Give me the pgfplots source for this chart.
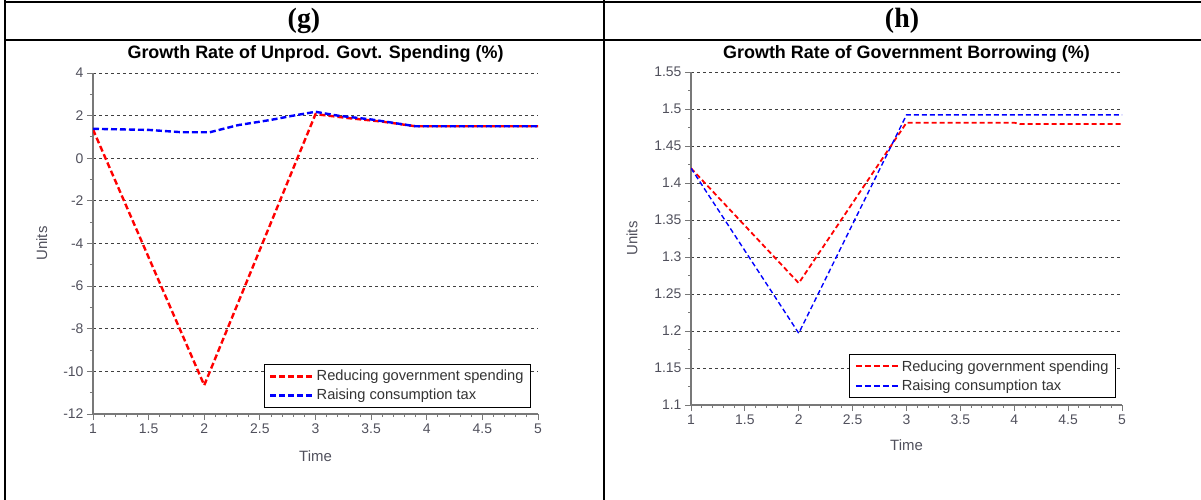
\documentclass[border=0pt]{standalone}
\usepackage{fontspec}
\setmainfont{Liberation Sans}
\newfontfamily\timesfont{Liberation Serif}
\usepackage{pgfplots}
\pgfplotsset{compat=1.18}

\definecolor{tickgray}{RGB}{80,80,92}
\definecolor{axisgray}{RGB}{120,120,120}
\definecolor{lred}{RGB}{255,0,0}
\definecolor{lblue}{RGB}{0,0,255}

\pgfplotsset{
  panel/.style={
    scale only axis,
    axis lines=left,
    axis line style={-, draw=axisgray, line width=1.5bp},
    tick align=outside,
    major tick length=6bp, minor tick length=3bp,
    every tick/.style={axisgray, line width=1bp},
    xmin=1, xmax=5,
    xtick={1,1.5,...,5}, minor x tick num=4,
    ymajorgrids,
    grid style={black!75, dash pattern=on 3bp off 3bp, line width=0.8bp},
    tick label style={font=\fontsize{14}{14}\selectfont, text=tickgray},
    /pgf/number format/assume math mode=true,
    label style={font=\fontsize{15}{15}\selectfont, text=tickgray},
    every axis title shift=0pt,
    legend style={draw=black, line width=0.8bp, fill=white,
      font=\fontsize{14.7}{15}\selectfont, text=black!80,
      anchor=south east, cells={anchor=west},
      inner xsep=5bp, inner ysep=4bp, row sep=3bp},
    legend image code/.code={\draw[#1] (0bp,0bp) -- (43bp,0bp);},
  },
}

\begin{document}
\begin{tikzpicture}
\path[use as bounding box] (0,0) rectangle (1201bp,-500bp);

% table frame
\draw[line width=2.2bp] (5bp,-2bp) -- (1201bp,-2bp);
\draw[line width=2.2bp] (5bp,-40bp) -- (1201bp,-40bp);
\draw[line width=2.2bp] (5bp,0bp) -- (5bp,-500bp);
\draw[line width=2.2bp] (604bp,0bp) -- (604bp,-500bp);
\node[font=\timesfont\bfseries\fontsize{28}{28}\selectfont] at (304bp,-21bp) {(g)};
\node[font=\timesfont\bfseries\fontsize{28}{28}\selectfont] at (902bp,-21bp) {(h)};

% (g)
\begin{axis}[panel,
  at={(93bp,-414bp)}, anchor=south west,
  width=445bp, height=341bp,
  ymin=-12, ymax=4, ytick={-12,-10,...,4}, minor y tick num=1,
  title={Growth Rate of Unprod. Govt. Spending (\%)},
  title style={at={(axis description cs:0.5,1.056)}, anchor=center,
    font=\bfseries\fontsize{18}{18}\selectfont},
  xlabel={Time}, xlabel style={at={(axis description cs:0.5,-0.123)}, anchor=center},
  ylabel={Units}, ylabel style={at={(axis description cs:-0.115,0.5)}, anchor=center, rotate=0},
  legend style={at={(0.984,0.018)}},
]
\addplot[lred, line width=2.4bp, dash pattern=on 6bp off 3bp] coordinates {
  (1,1.35) (2,-10.65) (3,2.07) (3.3,1.88) (3.6,1.72) (3.9,1.5) (5,1.5)
};
\addlegendentry{Reducing government spending}
\addplot[lblue, line width=2.4bp, dash pattern=on 6bp off 3bp] coordinates {
  (1,1.38) (1.5,1.33) (1.8,1.22) (2.05,1.22) (2.3,1.55) (2.6,1.8)
  (2.8,2.0) (3,2.18) (3.2,2.0) (3.5,1.82) (3.9,1.5) (5,1.5)
};
\addlegendentry{Raising consumption tax}
\end{axis}

% (h)
\begin{axis}[panel,
  at={(691bp,-405bp)}, anchor=south west,
  width=431bp, height=333bp,
  ymin=1.1, ymax=1.55,
  ytick={1.1,1.15,1.2,1.25,1.3,1.35,1.4,1.45,1.5,1.55}, minor y tick num=1,
  title={Growth Rate of Government Borrowing (\%)},
  title style={at={(axis description cs:0.5,1.054)}, anchor=center,
    font=\bfseries\fontsize{18}{18}\selectfont},
  xlabel={Time}, xlabel style={at={(axis description cs:0.5,-0.12)}, anchor=center},
  ylabel={Units}, ylabel style={at={(axis description cs:-0.137,0.5)}, anchor=center, rotate=0},
  legend style={at={(0.986,0.021)}},
  legend image post style={line width=2bp, dash pattern=on 6bp off 3bp},
]
\addplot[lred, line width=1.8bp, dash pattern=on 5bp off 3bp] coordinates {
  (1,1.42) (2,1.2647) (3,1.4815) (4,1.4815) (4.05,1.4797) (5,1.4797)
};
\addlegendentry{Reducing government spending}
\addplot[lblue, line width=1.4bp, dash pattern=on 5bp off 3bp] coordinates {
  (1,1.42) (2,1.197) (3,1.492) (5,1.492)
};
\addlegendentry{Raising consumption tax}
\end{axis}
\end{tikzpicture}
\end{document}
